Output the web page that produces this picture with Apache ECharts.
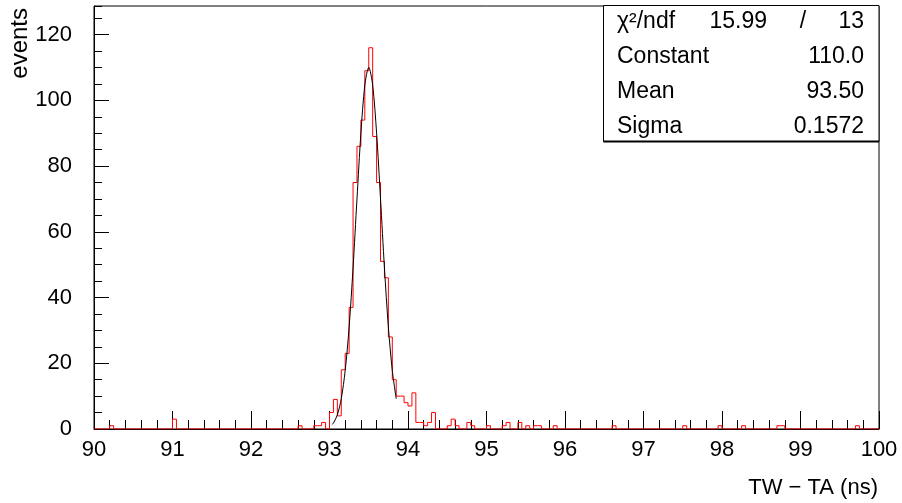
<!DOCTYPE html>
<html>
<head>
<meta charset="utf-8">
<script src="https://cdn.jsdelivr.net/npm/echarts@6.0.0/dist/echarts.min.js"></script>
<style>
html, body { margin: 0; padding: 0; background: #fff; }
#tdc { width: 902px; height: 503px; }
</style>
</head>
<body>
<div id="tdc"></div>
<script>
/* TW - TA timing histogram with gaussian fit */
var binWidth = 0.05;
var xMin = 90, xMax = 100;
var yMax = 128.7;

// non-empty bins: low edge and content
var binLow = [90.20, 91.00, 92.60, 92.80, 92.85, 92.90,
  93.00, 93.05, 93.10, 93.15, 93.20, 93.25, 93.30, 93.35, 93.40, 93.45,
  93.50, 93.55, 93.60, 93.65, 93.70, 93.75, 93.80, 93.85, 93.90, 93.95,
  94.00, 94.05, 94.10, 94.15, 94.20, 94.25, 94.30,
  94.50, 94.55, 94.60, 94.75, 94.80, 95.00, 95.20, 95.25, 95.40, 95.50,
  95.60, 95.65, 95.85, 96.60, 97.50, 97.95, 98.25, 98.70, 98.75, 99.70];
var binCount = [1, 3, 1, 1, 1, 2,
  5, 9, 4, 18, 23, 37, 75, 86, 94, 109,
  116, 89, 75, 51, 46, 28, 15, 10, 10, 8,
  7, 11, 2, 2, 1, 2, 5,
  1, 3, 1, 2, 1, 1, 1, 2, 2, 1,
  1, 1, 1, 1, 1, 1, 1, 1, 1, 1];

// fit curve
var fitX = [93.03, 93.05, 93.10, 93.15, 93.20, 93.25, 93.30, 93.35, 93.40, 93.45,
  93.50, 93.55, 93.60, 93.65, 93.70, 93.75, 93.80, 93.85];
var fitY = [1.3, 1.8, 4.3, 9.2, 17.8, 31, 49, 70, 90, 104.6,
  110, 104.6, 90, 70, 49, 31, 17.8, 9.2];

var statNames = ['χ²/ndf', 'Constant', 'Mean', 'Sigma'];
var statValues = ['13', '110.0', '93.50', '0.1572'];
var chi2 = '15.99';

var font = '"Liberation Sans", Arial, sans-serif';

var nBins = Math.round((xMax - xMin) / binWidth);
var counts = [];
for (var i = 0; i < nBins; i++) counts.push(0);
for (var i = 0; i < binLow.length; i++) {
  counts[Math.round((binLow[i] - xMin) / binWidth)] = binCount[i];
}
var histData = [];
for (var i = 0; i < nBins; i++) {
  histData.push([+(xMin + i * binWidth).toFixed(2), counts[i]]);
}
histData.push([xMax, counts[nBins - 1]]);

var fitData = [];
for (var i = 0; i < fitX.length; i++) fitData.push([fitX[i], fitY[i]]);

var graphics = [
  {
    type: 'text', x: 20, y: 8, rotation: Math.PI / 2,
    style: { text: 'events', fill: '#000', font: '24px ' + font, align: 'right', verticalAlign: 'middle' }
  },
  {
    type: 'text', x: 878, y: 488,
    style: { text: 'TW − TA (ns)', fill: '#000', font: '22px ' + font, align: 'right', verticalAlign: 'middle' }
  },
  {
    type: 'rect', z: 100,
    shape: { x: 603.5, y: 5.5, width: 275.5, height: 136 },
    style: { fill: '#fff', stroke: '#000', lineWidth: 1 }
  },
  {
    type: 'line', z: 101,
    shape: { x1: 603.5, y1: 141.5, x2: 879, y2: 141.5 },
    style: { stroke: '#000', lineWidth: 2 }
  }
];
for (var r = 0; r < statNames.length; r++) {
  var cy = 22 + r * 35;
  graphics.push({
    type: 'text', z: 102, x: 617, y: cy,
    style: { text: statNames[r], fill: '#000', font: '23px ' + font, align: 'left', verticalAlign: 'middle' }
  });
  graphics.push({
    type: 'text', z: 102, x: 864, y: cy,
    style: { text: statValues[r], fill: '#000', font: '23px ' + font, align: 'right', verticalAlign: 'middle' }
  });
}
graphics.push({
  type: 'text', z: 102, x: 767, y: 22,
  style: { text: chi2, fill: '#000', font: '23px ' + font, align: 'right', verticalAlign: 'middle' }
});
graphics.push({
  type: 'text', z: 102, x: 803, y: 22,
  style: { text: '/', fill: '#000', font: '23px ' + font, align: 'center', verticalAlign: 'middle' }
});

var chart = echarts.init(document.getElementById('tdc'));
chart.setOption({
  animation: false,
  backgroundColor: '#fff',
  grid: {
    left: 94, right: 23, top: 6, bottom: 74,
    show: true, borderColor: '#000', borderWidth: 1,
    outerBoundsMode: 'none'
  },
  xAxis: {
    type: 'value', min: xMin, max: xMax, interval: 1,
    axisLine: { show: true, lineStyle: { color: '#000', width: 1 } },
    axisTick: { show: true, inside: true, length: 18, lineStyle: { color: '#000' } },
    minorTick: { show: true, splitNumber: 5, length: 9, lineStyle: { color: '#000' } },
    axisLabel: { margin: 10, fontSize: 22, color: '#000', fontFamily: font },
    splitLine: { show: false },
    minorSplitLine: { show: false }
  },
  yAxis: [
    {
      type: 'value', min: 0, max: yMax, interval: 20,
      axisLine: { show: true, lineStyle: { color: '#000', width: 1 } },
      axisTick: { show: true, inside: true, length: 15, lineStyle: { color: '#000' } },
      axisLabel: { margin: 22, fontSize: 22, color: '#000', fontFamily: font, showMaxLabel: false },
      splitLine: { show: false }
    },
    {
      type: 'value', min: 0, max: yMax, interval: 5, position: 'left', offset: 0,
      axisLine: { show: false },
      axisTick: { show: true, inside: true, length: 8, lineStyle: { color: '#000' } },
      axisLabel: { show: false },
      splitLine: { show: false }
    }
  ],
  series: [
    {
      type: 'line', step: 'end', data: histData,
      showSymbol: false, symbol: 'none',
      lineStyle: { color: '#ff0000', width: 1 },
      clip: true, z: 3
    },
    {
      type: 'line', data: fitData, smooth: 0.3,
      showSymbol: false, symbol: 'none',
      lineStyle: { color: '#000', width: 1 },
      z: 4
    }
  ],
  graphic: graphics
});
</script>
</body>
</html>
